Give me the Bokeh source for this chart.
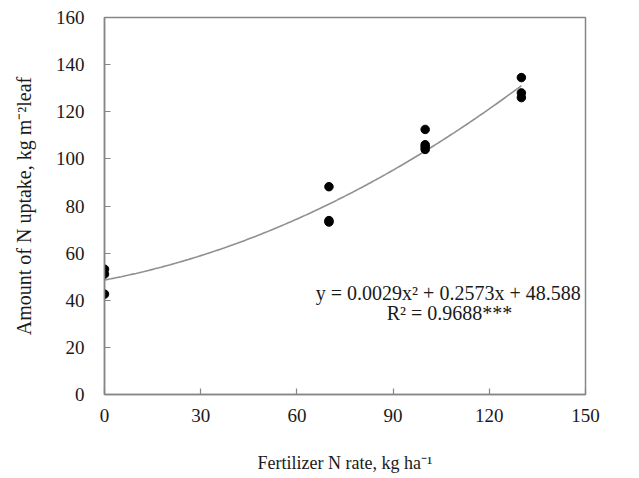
from bokeh.plotting import figure
from bokeh.models import Label, FixedTicker, Range1d
from bokeh.embed import file_html
from bokeh.resources import INLINE
import numpy as np

# Data
n_rate = [0, 0, 0, 70, 70, 70, 100, 100, 100, 100, 130, 130, 130]
n_uptake = [53.2, 51.1, 42.6, 88.2, 73.2, 73.8, 112.5, 106.0, 105.0, 104.0, 134.5, 128.0, 126.0]

# Quadratic fit reported on the chart
coef_a = 0.0029
coef_b = 0.2573
coef_c = 48.588
fit_x_min = 0
fit_x_max = 130

x_ticks = [0, 30, 60, 90, 120, 150]
y_ticks = [0, 20, 40, 60, 80, 100, 120, 140, 160]

eq_text = "y = 0.0029x\u00b2 + 0.2573x + 48.588"
r2_text = "R\u00b2 = 0.9688***"

FONT = "Liberation Serif"
GRAY = "#868686"
TXT = "#1a1a1a"

p = figure(width=639, height=478, output_backend="svg", toolbar_location=None,
           x_range=Range1d(0, 150), y_range=Range1d(0, 160),
           min_border_left=104, min_border_right=54, min_border_top=17, min_border_bottom=84)

p.background_fill_color = "white"
p.border_fill_color = "white"
p.outline_line_color = GRAY
p.outline_line_width = 1.5
p.xgrid.visible = False
p.ygrid.visible = False

fx = np.linspace(fit_x_min, fit_x_max, 200)
fy = coef_a * fx ** 2 + coef_b * fx + coef_c
p.line(fx, fy, line_color="#909090", line_width=1.6)

p.scatter(n_rate, n_uptake, size=8.5, color="black", marker="circle")

for ax in (p.xaxis[0], p.yaxis[0]):
    ax.axis_line_color = GRAY
    ax.axis_line_width = 1.5
    ax.major_tick_line_color = GRAY
    ax.major_tick_line_width = 1.2
    ax.major_tick_in = 6
    ax.major_tick_out = 0
    ax.minor_tick_line_color = None
    ax.major_label_text_font = FONT
    ax.major_label_text_font_size = "19px"
    ax.major_label_text_color = TXT
    ax.axis_label_text_font = FONT
    ax.axis_label_text_font_style = "normal"
    ax.axis_label_text_color = TXT

p.xaxis.axis_label_text_font_size = "18px"
p.yaxis.axis_label_text_font_size = "20px"
p.xaxis.ticker = FixedTicker(ticks=x_ticks)
p.yaxis.ticker = FixedTicker(ticks=y_ticks)
p.xaxis.major_label_standoff = 14
p.yaxis.major_label_standoff = 20
p.xaxis.axis_label = "Fertilizer N rate, kg ha\u207b\u00b9"
p.yaxis.axis_label = "Amount of N uptake, kg m\u207b\u00b2leaf"
p.xaxis.axis_label_standoff = 28
p.yaxis.axis_label_standoff = 18

p.add_layout(Label(x=107.2, y=42.9, text=eq_text, text_align="center", text_baseline="middle",
                   text_font=FONT, text_font_size="20px", text_color=TXT))
p.add_layout(Label(x=107.6, y=34.6, text=r2_text, text_align="center", text_baseline="middle",
                   text_font=FONT, text_font_size="20px", text_color=TXT))

open("out.html", "w").write(file_html(p, INLINE))
